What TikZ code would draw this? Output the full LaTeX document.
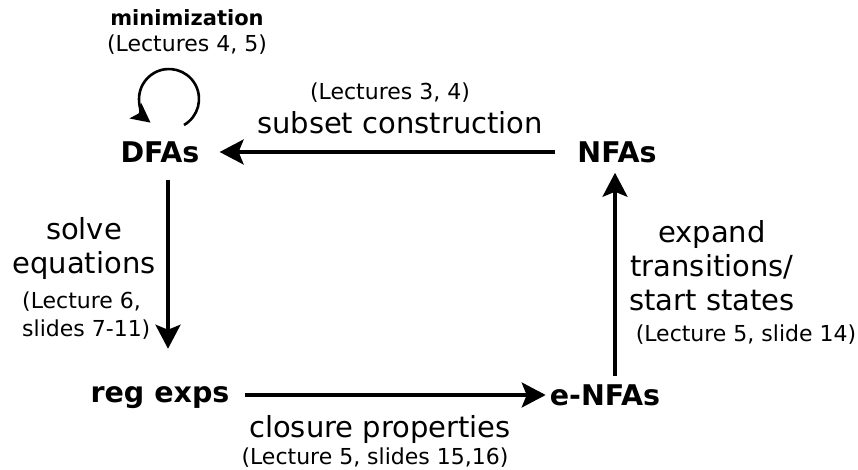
\documentclass[tikz,border=0pt]{standalone}
\usepackage{fontspec}
\setmainfont{DejaVu Sans}
\usetikzlibrary{arrows.meta}

\begin{document}
\begin{tikzpicture}[x = 1pt, y = 1pt,
	automaton/.style = {font = \fontsize{28.5}{33}\selectfont\bfseries, inner sep = 0pt},
	method/.style = {font = \fontsize{29}{34}\selectfont, inner sep = 0pt},
	lecture/.style = {font = \fontsize{22}{28}\selectfont, inner sep = 0pt},
	arrow/.style = {line width = 3.2pt, -{Stealth[length = 24pt, width = 25pt, inset = 5pt]}}]

	% Frame

	\useasboundingbox (0, 0) rectangle (858, 470);

	% Automata

	\node [automaton] (dfa) at (160, 318) {DFAs};
	\node [automaton] (nfa) at (617, 318) {NFAs};
	\node [automaton] (regexp) at (160, 72) {reg exps};
	\node [automaton] (enfa) at (605, 75) {e-NFAs};

	% Conversions

	\draw [arrow] (nfa) -- (dfa) [shorten < = 22pt, shorten > = 20pt];
	\draw [arrow, shorten < = 17pt, shorten > = 38pt] ([xshift = 8pt] dfa.south) -- ([xshift = 8pt] regexp.north);
	\draw [arrow, shorten < = 15pt, shorten > = 4pt] (regexp.east |- enfa.west) -- (enfa.west);
	\draw [arrow, shorten < = 8pt, shorten > = 10pt] ([xshift = -2pt] nfa.south |- enfa.north) -- ([xshift = -2pt] nfa.south);

	% Minimization loop

	\draw [arrow, line width = 2.6pt, -{Stealth[length = 19pt, width = 19pt, inset = 4pt]}]
		([xshift = 24pt, yshift = 27pt] dfa.center) arc [start angle = -60, end angle = 232, radius = 30pt];

	% Labels

	\node [font = \fontsize{21}{24}\selectfont\bfseries, inner sep = 0pt] (mini) at (187, 452) {minimization};
	\node [lecture] (minilect) at (187, 425) {(Lectures 4, 5)};

	\node [lecture] (subsetlect) at (390, 377) {(Lectures 3, 4)};
	\node [method] (subset) at (400, 347) {subset construction};

	\node [method, align = center] (solve) at (84, 221) {solve\\equations};
	\node [lecture, align = left, anchor = west] (solvelect) at (22, 154) {(Lecture 6,\\slides 7-11)};

	\node [method] (closure) at (380, 40) {closure properties};
	\node [lecture] (closurelect) at (375, 12) {(Lecture 5, slides 15,16)};

	\node [method, align = center] (expand) at (712, 204) {expand\\transitions/\\start states};
	\node [lecture] (expandlect) at (746, 135) {(Lecture 5, slide 14)};

\end{tikzpicture}
\end{document}
